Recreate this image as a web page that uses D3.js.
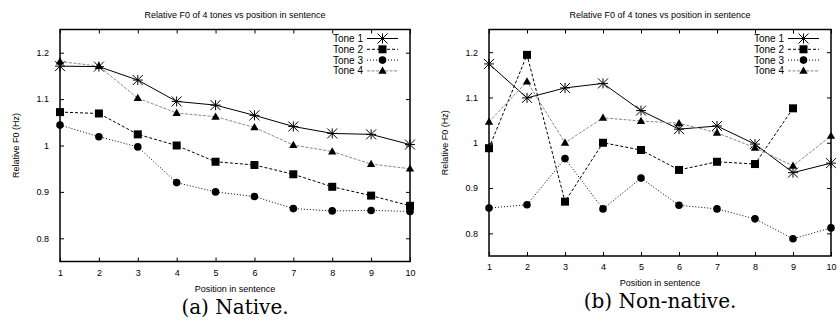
<!DOCTYPE html>
<html>
<head>
<meta charset="utf-8">
<script src="https://cdn.jsdelivr.net/npm/d3@7"></script>
<style>
  body { margin: 0; background: #fff; }
  svg { display: block; }
  .tick text { font-family: "Liberation Sans", Arial, sans-serif; font-size: 9px; fill: #000; }
</style>
</head>
<body>
<svg id="chart" width="840" height="322"></svg>
<script>
// positions in sentence
const positions = [1, 2, 3, 4, 5, 6, 7, 8, 9, 10];
const yTicks = [0.8, 0.9, 1.0, 1.1, 1.2];
const toneNames = ['Tone 1', 'Tone 2', 'Tone 3', 'Tone 4'];

// (a) native speakers
const nativeTone1 = [1.171, 1.170, 1.141, 1.095, 1.087, 1.065, 1.041, 1.026, 1.024, 1.002];
const nativeTone2 = [1.072, 1.069, 1.024, 1.000, 0.965, 0.958, 0.938, 0.911, 0.892, 0.870];
const nativeTone3 = [1.044, 1.019, 0.997, 0.920, 0.900, 0.890, 0.864, 0.859, 0.860, 0.858];
const nativeTone4 = [1.181, 1.171, 1.102, 1.070, 1.062, 1.039, 1.001, 0.987, 0.960, 0.950];

// (b) non-native speakers (tone 2 has no value at position 10)
const nonNativeTone1 = [1.174, 1.099, 1.121, 1.131, 1.071, 1.030, 1.037, 0.997, 0.934, 0.955];
const nonNativeTone2 = [0.988, 1.194, 0.870, 1.000, 0.984, 0.940, 0.958, 0.953, 1.076, null];
const nonNativeTone3 = [0.856, 0.863, 0.965, 0.854, 0.922, 0.862, 0.854, 0.832, 0.788, 0.812];
const nonNativeTone4 = [1.046, 1.135, 1.000, 1.055, 1.048, 1.043, 1.022, 0.989, 0.949, 1.015];

const styles = [
  { stroke: '#000', dash: null, marker: 'star' },
  { stroke: '#000', dash: '3,2', marker: 'square' },
  { stroke: '#000', dash: '1,2', marker: 'circle' },
  { stroke: '#888', dash: '3,1.5', marker: 'triangle' }
];

const svg = d3.select('#chart');

function drawMarker(g, type, cx, cy) {
  if (type === 'star') {
    // gnuplot style asterisk: plus and cross together
    const r = 5;
    const p = 'M' + (cx - r) + ',' + cy + 'L' + (cx + r) + ',' + cy +
      'M' + cx + ',' + (cy - r) + 'L' + cx + ',' + (cy + r) +
      'M' + (cx - r) + ',' + (cy - r) + 'L' + (cx + r) + ',' + (cy + r) +
      'M' + (cx - r) + ',' + (cy + r) + 'L' + (cx + r) + ',' + (cy - r);
    g.append('path').attr('d', p).attr('stroke', '#000').attr('stroke-width', 1);
  } else if (type === 'square') {
    g.append('rect').attr('x', cx - 4).attr('y', cy - 4).attr('width', 8).attr('height', 8).attr('fill', '#000');
  } else if (type === 'circle') {
    g.append('circle').attr('cx', cx).attr('cy', cy).attr('r', 3.8).attr('fill', '#000');
  } else {
    g.append('path')
      .attr('d', d3.symbol().type(d3.symbolTriangle).size(30)())
      .attr('transform', 'translate(' + cx + ',' + (cy + 0.5) + ')')
      .attr('fill', '#000');
  }
}

function panel(box, series, caption, capY) {
  const x = d3.scaleLinear().domain([1, 10]).range([box.left, box.right]);
  const y = d3.scaleLinear().domain([0.75, 1.25]).range([box.bottom, box.top]);
  const g = svg.append('g');

  // inward ticks on all four sides
  g.append('g')
    .attr('transform', 'translate(0,' + box.bottom + ')')
    .call(d3.axisBottom(x).tickValues(positions).tickSize(-4).tickPadding(8).tickFormat(d3.format('d')))
    .call(a => a.select('.domain').remove());
  g.append('g')
    .attr('transform', 'translate(0,' + box.top + ')')
    .call(d3.axisTop(x).tickValues(positions).tickSize(-4).tickFormat(''))
    .call(a => a.select('.domain').remove());
  g.append('g')
    .attr('transform', 'translate(' + box.left + ',0)')
    .call(d3.axisLeft(y).tickValues(yTicks).tickSize(-4).tickPadding(11).tickFormat(d => d === 1 ? '1' : d3.format('.1f')(d)))
    .call(a => a.select('.domain').remove());
  g.append('g')
    .attr('transform', 'translate(' + box.right + ',0)')
    .call(d3.axisRight(y).tickValues(yTicks).tickSize(-4).tickFormat(''))
    .call(a => a.select('.domain').remove());
  g.selectAll('.tick line').attr('stroke', '#000');

  g.append('rect')
    .attr('x', box.left).attr('y', box.top)
    .attr('width', box.right - box.left).attr('height', box.bottom - box.top)
    .attr('fill', 'none').attr('stroke', '#000').attr('stroke-width', 1.5);

  const line = d3.line()
    .defined(d => d.v !== null)
    .x(d => x(d.p))
    .y(d => y(d.v));

  series.forEach((vals, i) => {
    const pts = vals.map((v, j) => ({ p: positions[j], v: v }));
    const st = styles[i];
    g.append('path')
      .attr('d', line(pts))
      .attr('fill', 'none')
      .attr('stroke', st.stroke)
      .attr('stroke-width', 1)
      .attr('stroke-dasharray', st.dash);
    pts.filter(d => d.v !== null).forEach(d => drawMarker(g, st.marker, x(d.p), y(d.v)));
  });

  // legend
  const lg = g.append('g');
  toneNames.forEach((name, i) => {
    const ly = box.top + 9 + i * 10.8;
    const lx = box.right - 12;
    lg.append('text')
      .attr('x', lx - 35).attr('y', ly + 3.5)
      .attr('text-anchor', 'end')
      .style('font-family', '"Liberation Sans", Arial, sans-serif')
      .style('font-size', '10px')
      .text(name);
    lg.append('line')
      .attr('x1', lx - 31).attr('x2', lx).attr('y1', ly).attr('y2', ly)
      .attr('stroke', styles[i].stroke).attr('stroke-width', 1)
      .attr('stroke-dasharray', styles[i].dash);
    drawMarker(lg, styles[i].marker, lx - 15.5, ly);
  });

  const cx = (box.left + box.right) / 2;
  g.append('text')
    .attr('x', cx).attr('y', 18)
    .attr('text-anchor', 'middle')
    .style('font-family', '"Liberation Sans", Arial, sans-serif')
    .style('font-size', '9px')
    .text('Relative F0 of 4 tones vs position in sentence');

  g.append('text')
    .attr('x', cx).attr('y', box.bottom + 30)
    .attr('text-anchor', 'middle')
    .style('font-family', '"Liberation Sans", Arial, sans-serif')
    .style('font-size', '9px')
    .text('Position in sentence');

  g.append('text')
    .attr('transform', 'translate(' + (box.left - 41) + ',' + ((box.top + box.bottom) / 2) + ') rotate(-90)')
    .attr('text-anchor', 'middle')
    .style('font-family', '"Liberation Sans", Arial, sans-serif')
    .style('font-size', '9px')
    .text('Relative F0 (Hz)');

  g.append('text')
    .attr('x', cx).attr('y', capY)
    .attr('text-anchor', 'middle')
    .style('font-family', '"DejaVu Serif", "Liberation Serif", serif')
    .style('font-size', '20px')
    .text(caption);
}

panel({ left: 60, right: 410, top: 29.5, bottom: 261.5 },
  [nativeTone1, nativeTone2, nativeTone3, nativeTone4], '(a) Native.', 314);
panel({ left: 489, right: 831, top: 29.5, bottom: 256 },
  [nonNativeTone1, nonNativeTone2, nonNativeTone3, nonNativeTone4], '(b) Non-native.', 308);
</script>
</body>
</html>
